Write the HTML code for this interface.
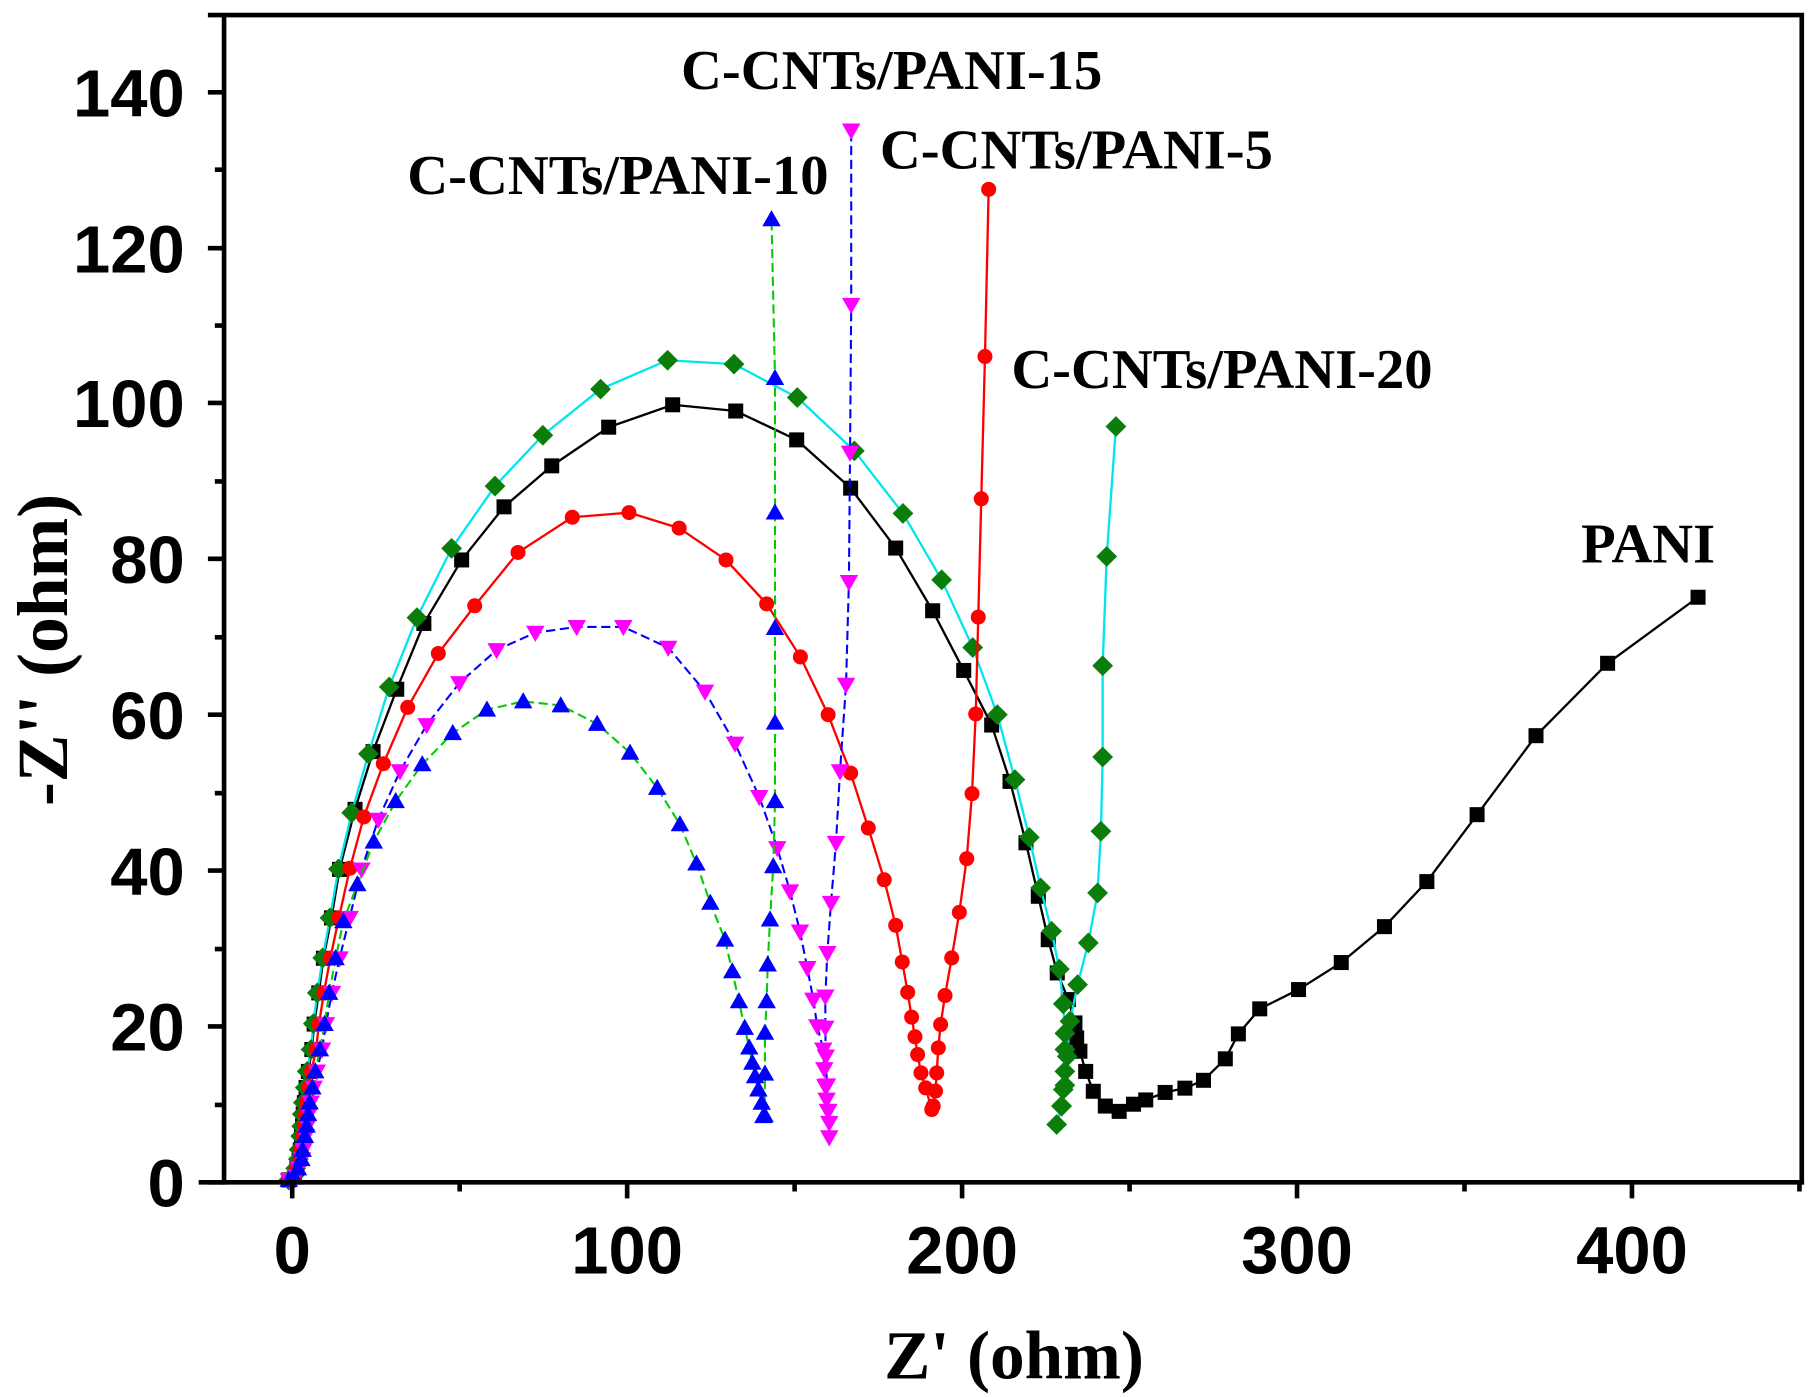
<!DOCTYPE html>
<html><head><meta charset="utf-8"><style>html,body{margin:0;padding:0;background:#fff}svg{display:block}</style></head>
<body>
<svg width="1811" height="1397" viewBox="0 0 1568 1210" preserveAspectRatio="none" xmlns="http://www.w3.org/2000/svg">
<defs>
<marker id="sq" markerUnits="userSpaceOnUse" markerWidth="14" markerHeight="14" refX="7" refY="7" overflow="visible"><rect x="0.5" y="0.5" width="13" height="13" fill="#000"/></marker>
<marker id="di" markerUnits="userSpaceOnUse" markerWidth="18" markerHeight="18" refX="9" refY="9" overflow="visible"><polygon points="9,0 18,9 9,18 0,9" fill="#0a7d0a"/></marker>
<marker id="ci" markerUnits="userSpaceOnUse" markerWidth="14" markerHeight="14" refX="7" refY="7" overflow="visible"><circle cx="7" cy="7" r="6.5" fill="#f00"/></marker>
<marker id="dt" markerUnits="userSpaceOnUse" markerWidth="16" markerHeight="14" refX="8" refY="6" overflow="visible"><polygon points="0,0 16,0 8,14" fill="#f0f"/></marker>
<marker id="ut" markerUnits="userSpaceOnUse" markerWidth="16" markerHeight="14" refX="8" refY="8" overflow="visible"><polygon points="0,14 16,14 8,0" fill="#00f"/></marker>
</defs>
<g fill="none" stroke-linejoin="round">
<polyline stroke="#000" stroke-width="2" marker-start="url(#sq)" marker-mid="url(#sq)" marker-end="url(#sq)" points="250,1022 255,1019 257,1012 259,1004 260,996 261,984 262,975 262.5,965 263.5,955 265,942 267,928 270,909 272,887 276,860 280,830 287,795 294,753 307.4,701 323,651 343.5,597 367,540 399.7,485 436.4,439 477.7,403.5 527,370 582.4,350.6 637,356 689.8,381 736.5,422.8 775.5,474.7 807.5,529 834.4,580.7 858.6,628 874.5,676.8 888.3,730 899,776.3 907.6,813.9 915.4,842.7 925,865.8 930.7,886 932.2,899 935,910.5 940,928 946.6,945.2 957,958 969,962.6 981.4,956.4 992,952.7 1008.8,946.2 1025.9,942.5 1042,935.7 1060.9,917.1 1072.2,895.5 1090.7,873.8 1124.3,857.1 1161.3,833.7 1198.7,802.6 1235.4,763.6 1278.9,705.6 1329.9,637.2 1391.9,574.5 1470.2,517.3"/>
<polyline stroke="#00e5ee" stroke-width="2" marker-start="url(#di)" marker-mid="url(#di)" marker-end="url(#di)" points="250,1022 254,1019 256,1012 258.3,1004 259,995.7 260.3,984 261.2,975.5 261.7,965 262.6,955 264.3,942 266,928 269.3,909 271.3,886.6 274.7,860 279.4,829.7 285.7,795 293,752.7 304.5,704 319,653 337,595 361,535 391,475 428.6,421 470,377 520,337 578,312 635.5,315.4 690.3,344.3 739.7,390.5 781.8,444.7 815.3,502.2 842.2,560.8 863.5,619 878.8,675.3 891.2,725.3 901,769 910.5,806.6 917.2,839.4 920.6,869.5 922,895 922,909 922,928 920.6,943.7 919.2,958 914.9,974 919,958 922,940 924,915 926.4,884.5 933,852.8 942.3,816.7 950.3,773.4 953.2,720 954.7,655.7 954.7,576.6 958.2,482 966.2,369.4"/>
<polyline stroke="#f00" stroke-width="2" marker-start="url(#ci)" marker-mid="url(#ci)" marker-end="url(#ci)" points="250,1022 255,1019 257.2,1012 259.8,1004 260.7,996 262.3,984 263.5,975 264.3,965 265.5,955 267.6,942 269.7,928 273.6,909 276.2,887 280.4,860 286,830 293.4,795 303,752 315,707.6 331.9,661.5 353,612.7 379.5,566 411,524.7 448.5,478.5 495.5,448 544.6,444 588,457.4 628.6,485 663.8,523 693,569 717,619 736.5,669.6 751.8,717.2 765.6,762 775.5,801.5 781.2,833.2 785.9,859.5 789.3,881 792.2,898 794.5,913.4 797.4,929.3 801.5,942.3 806.7,961 808,958 810,945 811,929.3 812.4,907.6 814.4,887.4 818.2,862.3 824,829.7 830.6,790.2 837,743.7 841.6,687.4 844.8,618.4 847,534.5 849.6,432 852.8,308.8 856,164"/>
<polyline stroke="#00f" stroke-width="1.8" stroke-dasharray="8,4" marker-start="url(#dt)" marker-mid="url(#dt)" marker-end="url(#dt)" points="250,1022 256,1019 258.6,1012 261.5,1004 262.7,996 264.8,984 266.3,975 267.5,965 269,955 271.6,942 274.3,928 278.8,909 282.2,887 287.4,860 294,830 302.7,795 313,753 327.5,710 346.3,668 369.4,628 397.7,591.6 430,563 463.5,548 499.3,543 539.7,543 578.6,561 610.4,599 636.4,644 657.4,690.3 673,734.5 684,772 692.6,806.7 699,838.4 704.2,865.8 707.6,888.8 712.8,909 713.7,926 714.6,940.7 715.7,952.4 717,962.5 718,972.5 718,985 717,962 716,940 715,915 714.6,890 714.6,863 716.3,825.4 719.5,782 723.8,730 727.3,668 732.5,593 735,504 736,392 737,264 737,113"/>
<polyline stroke="#0c0" stroke-width="1.8" stroke-dasharray="8,4" marker-start="url(#ut)" marker-mid="url(#ut)" marker-end="url(#ut)" points="250,1022 255,1020 258,1012 261,1004 262,996 264,984 265.5,975 266.7,965 268,955 270.5,942 273,928 277,909 281,887 285,860 290.6,830 297.3,798 309.4,766 323.6,729 342.6,694 365.6,662 392,635 421.6,614.7 453,607.5 485.5,611 517,627 545.5,652 569,682.5 588.7,714 603,748 615,782 627.7,813.9 634,841.3 639.8,867.3 644.8,890.3 648.7,907.4 651.4,920.6 653.7,932.2 656.6,943.7 659.5,955.2 660.9,966.8 662,966 662.3,930 662.3,894.6 663.8,867.3 664.7,835.5 666.7,796.5 669.5,750.4 671,694 671,626 671,544 671,444 671,327.5 668,190"/>
</g>
<g stroke="#000" stroke-width="4" fill="none">
<line x1="194" y1="12" x2="194" y2="1026"/>
<line x1="172" y1="1024" x2="1562" y2="1024"/>
<line x1="180" y1="13" x2="1562" y2="13"/>
<line x1="1560" y1="12" x2="1560" y2="1026"/>
<path d="M194 1024h-14M194 889h-14M194 754h-14M194 619h-14M194 484h-14M194 349h-14M194 215h-14M194 80h-14M194 957h-8M194 822h-8M194 687h-8M194 552h-8M194 417h-8M194 282h-8M194 147h-8"/>
<path d="M253 1024v14M543 1024v14M833 1024v14M1123 1024v14M1413 1024v14M398 1024v8M688 1024v8M978 1024v8M1268 1024v8M1558 1024v8"/>
</g>
<g font-family="Liberation Sans, sans-serif" font-weight="bold" font-size="58" fill="#000">
<g text-anchor="end">
<text x="160" y="1045">0</text><text x="160" y="910">20</text><text x="160" y="775">40</text><text x="160" y="640">60</text><text x="160" y="505">80</text><text x="160" y="370">100</text><text x="160" y="236">120</text><text x="160" y="101">140</text>
</g>
<g text-anchor="middle">
<text x="253" y="1103">0</text><text x="543" y="1103">100</text><text x="833" y="1103">200</text><text x="1123" y="1103">300</text><text x="1413" y="1103">400</text>
</g>
</g>
<g font-family="Liberation Serif, serif" font-weight="bold" fill="#000">
<text x="878" y="1194" font-size="60" text-anchor="middle">Z' (ohm)</text>
<text transform="translate(58,563) rotate(-90)" font-size="62" text-anchor="middle">-Z'' (ohm)</text>
<g font-size="49">
<text x="772" y="77" text-anchor="middle">C-CNTs/PANI-15</text>
<text x="932" y="146" text-anchor="middle">C-CNTs/PANI-5</text>
<text x="535" y="168" text-anchor="middle">C-CNTs/PANI-10</text>
<text x="1058" y="336" text-anchor="middle">C-CNTs/PANI-20</text>
<text x="1427" y="487" text-anchor="middle">PANI</text>
</g>
</g>
</svg>
</body></html>
